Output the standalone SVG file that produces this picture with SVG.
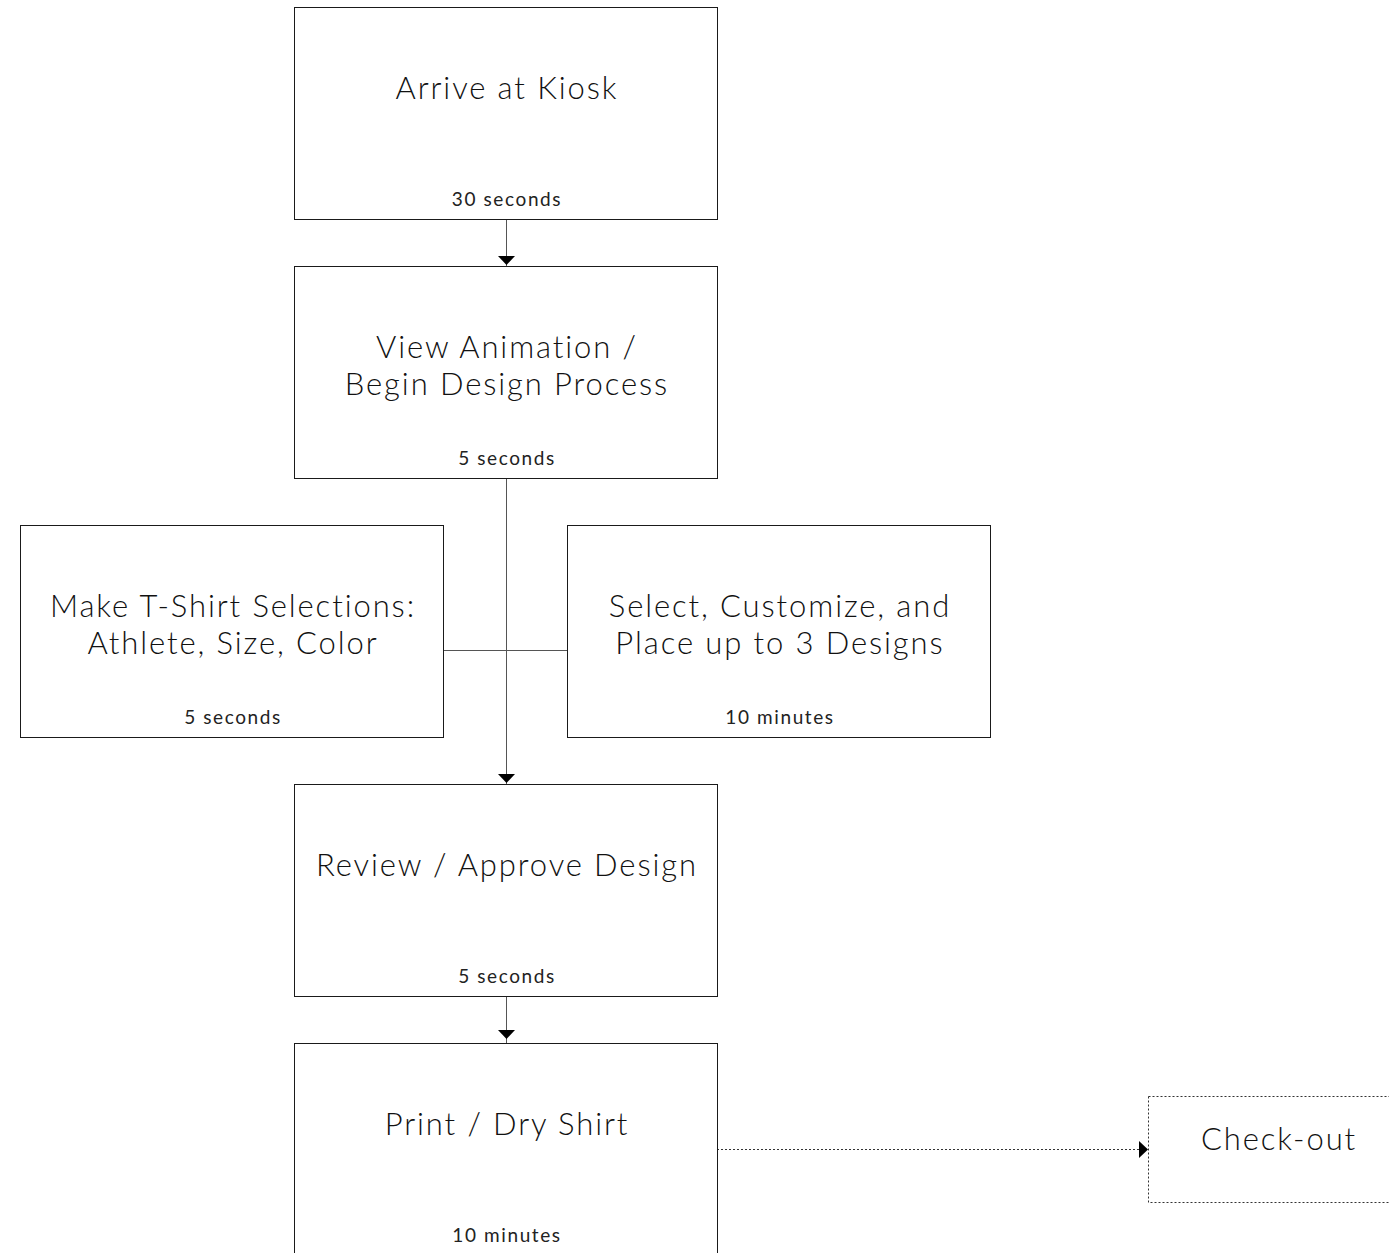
<svg xmlns="http://www.w3.org/2000/svg" width="1389" height="1253" viewBox="0 0 1389 1253">
<defs>
<style>
.box{fill:#fff;stroke:#1a1a1a;stroke-width:1}
.dash{fill:#fff;stroke:#333;stroke-width:1;stroke-dasharray:2 2}
.t{font-family:Lato,"Liberation Sans",sans-serif;font-weight:300;font-size:31px;fill:#111;text-anchor:middle;letter-spacing:1.9px}
.s{font-family:Lato,"Liberation Sans",sans-serif;font-weight:400;font-size:19px;fill:#222;text-anchor:middle;letter-spacing:1.6px}
.c{stroke:#555;stroke-width:1;fill:none}
.cd{stroke:#333;stroke-width:1;fill:none;stroke-dasharray:2 2}
</style>
</defs>
<rect width="1389" height="1253" fill="#fff"/>
<g id="connectors">
<line class="c" x1="506.5" y1="219" x2="506.5" y2="266"/>
<path d="M498,256 L515,256 L506.5,265 Z" fill="#000"/>
<line class="c" x1="506.5" y1="478" x2="506.5" y2="784"/>
<path d="M498,774 L515,774 L506.5,783 Z" fill="#000"/>
<line class="c" x1="443" y1="650.5" x2="567" y2="650.5"/>
<line class="c" x1="506.5" y1="996" x2="506.5" y2="1043"/>
<path d="M498,1030 L515,1030 L506.5,1039 Z" fill="#000"/>
<line class="cd" x1="717" y1="1149.5" x2="1142" y2="1149.5"/>
<path d="M1139,1141 L1148,1149.5 L1139,1158 Z" fill="#000"/>
</g>
<g id="n1">
<rect class="box" x="294.5" y="7.5" width="423" height="212"/>
<text class="t" x="507" y="99">Arrive at Kiosk</text>
<text class="s" x="507" y="206">30 seconds</text>
</g>
<g id="n2">
<rect class="box" x="294.5" y="266.5" width="423" height="212"/>
<text class="t" x="507" y="358">View Animation /</text>
<text class="t" x="507" y="395">Begin Design Process</text>
<text class="s" x="507" y="465">5 seconds</text>
</g>
<g id="n3">
<rect class="box" x="20.5" y="525.5" width="423" height="212"/>
<text class="t" x="233" y="617">Make T-Shirt Selections:</text>
<text class="t" x="233" y="654">Athlete, Size, Color</text>
<text class="s" x="233" y="724">5 seconds</text>
</g>
<g id="n4">
<rect class="box" x="567.5" y="525.5" width="423" height="212"/>
<text class="t" x="780" y="617">Select, Customize, and</text>
<text class="t" x="780" y="654">Place up to 3 Designs</text>
<text class="s" x="780" y="724">10 minutes</text>
</g>
<g id="n5">
<rect class="box" x="294.5" y="784.5" width="423" height="212"/>
<text class="t" x="507" y="876">Review / Approve Design</text>
<text class="s" x="507" y="983">5 seconds</text>
</g>
<g id="n6">
<rect class="box" x="294.5" y="1043.5" width="423" height="212"/>
<text class="t" x="507" y="1135">Print / Dry Shirt</text>
<text class="s" x="507" y="1242">10 minutes</text>
</g>
<g id="n7">
<rect class="dash" x="1148.5" y="1096.5" width="245" height="106"/>
<text class="t" x="1279" y="1150">Check-out</text>
</g>
</svg>
